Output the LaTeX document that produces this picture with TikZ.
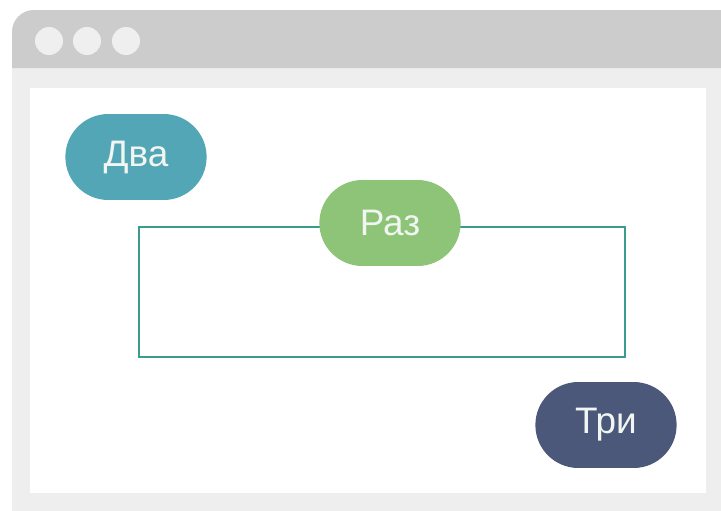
\documentclass[tikz,border=0pt]{standalone}
\usepackage{fontspec}
\setmainfont{Liberation Sans}
\usepackage{xcolor}
\usetikzlibrary{positioning, shapes.misc}
\definecolor{barGray}{HTML}{CCCCCC}
\definecolor{frameGray}{HTML}{EEEEEE}
\definecolor{dotGray}{HTML}{EFEFEF}
\definecolor{dvaTeal}{HTML}{52A6B5}
\definecolor{razGreen}{HTML}{8DC478}
\definecolor{triSlate}{HTML}{4B5879}
\definecolor{boxTeal}{HTML}{3A9C8E}
\definecolor{pillText}{HTML}{F2F6F2}
\tikzset{pill/.style={rounded rectangle, minimum width=3.06cm, minimum height=1.72cm, text=pillText, font=\fontsize{21}{24}\selectfont}}

\begin{document}
\begin{tikzpicture}[x=0.02cm, y=-0.02cm]
	\useasboundingbox (0,0) rectangle (721,511);
	\clip (0,0) rectangle (721,511);
	% window
	\fill[frameGray, rounded corners=0.44cm] (12,10) rectangle (760,560);
	\fill[barGray, rounded corners=0.44cm] (12,68) -- (12,10) -- (760,10) [sharp corners] -- (760,68) -- cycle;
	\foreach \dx in {49,87,126}
		\fill[dotGray] (\dx,41) circle[radius=0.28cm];
	\fill[white] (30,88) rectangle (706,493);
	% frame and labels
	\node[draw=boxTeal, line width=1.5pt, minimum width=9.72cm, minimum height=2.6cm] (box) at (382,292) {};
	\node[pill, fill=dvaTeal] (dva) at (136,157) {Два};
	\node[pill, fill=razGreen] (raz) at (390,223) {Раз};
	\node[pill, fill=triSlate] (tri) at (606,425) {Три};
\end{tikzpicture}
\end{document}
